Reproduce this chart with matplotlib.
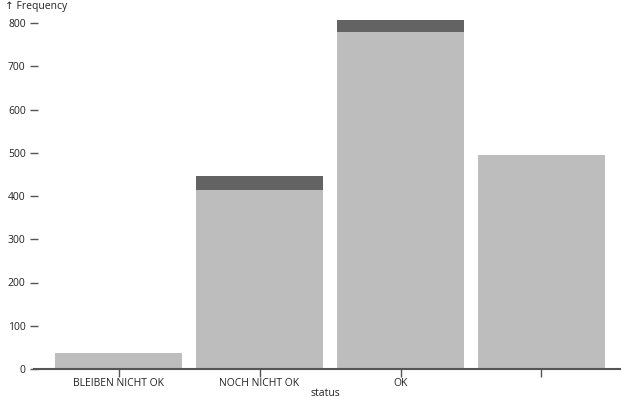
import matplotlib
matplotlib.use('Agg')
import matplotlib.pyplot as plt
import numpy as np

plt.rcParams['font.family'] = ['Open Sans', 'DejaVu Sans']

# data
categories = ['BLEIBEN NICHT OK', 'NOCH NICHT OK', 'OK', '']
light_counts = [36, 414, 780, 495]
dark_counts = [2, 33, 27, 0]

light_color = '#bdbdbd'
dark_color = '#636363'
axis_color = '#555555'

fig = plt.figure(figsize=(6.4, 4.0), dpi=100)
ax = fig.add_axes([34 / 640, 31 / 400, 586 / 640, (369 - 14.35) / 400])

x = np.arange(len(categories))
ax.bar(x, light_counts, width=0.9, color=light_color)
ax.bar(x, dark_counts, width=0.9, bottom=light_counts, color=dark_color)

ax.set_xlim(-0.60, 3.557)
ax.set_ylim(0, 820)
ax.set_yticks(np.arange(0, 801, 100))
ax.set_xticks(x)
ax.set_xticklabels(categories)

for side in ['top', 'right', 'left']:
    ax.spines[side].set_visible(False)
ax.spines['bottom'].set_color(axis_color)
ax.spines['bottom'].set_linewidth(1.5)

ax.tick_params(axis='x', length=6, width=1, color=axis_color, labelsize=7.5,
               labelcolor='#222222', pad=0.5)
ax.tick_params(axis='y', direction='inout', length=6, width=1, color=axis_color,
               labelsize=7.5, labelcolor='#222222', pad=3)

# axis titles placed like the reference
fig.text(325 / 640, 1 - 394 / 400, 'status', fontsize=7.5, color='#222222',
         va='center', ha='center')
fig.text(5 / 640, 1 - 6 / 400, '\u2191 Frequency', fontsize=7.5, color='#222222',
         va='center', ha='left')

fig.savefig('out.png', dpi=100)
